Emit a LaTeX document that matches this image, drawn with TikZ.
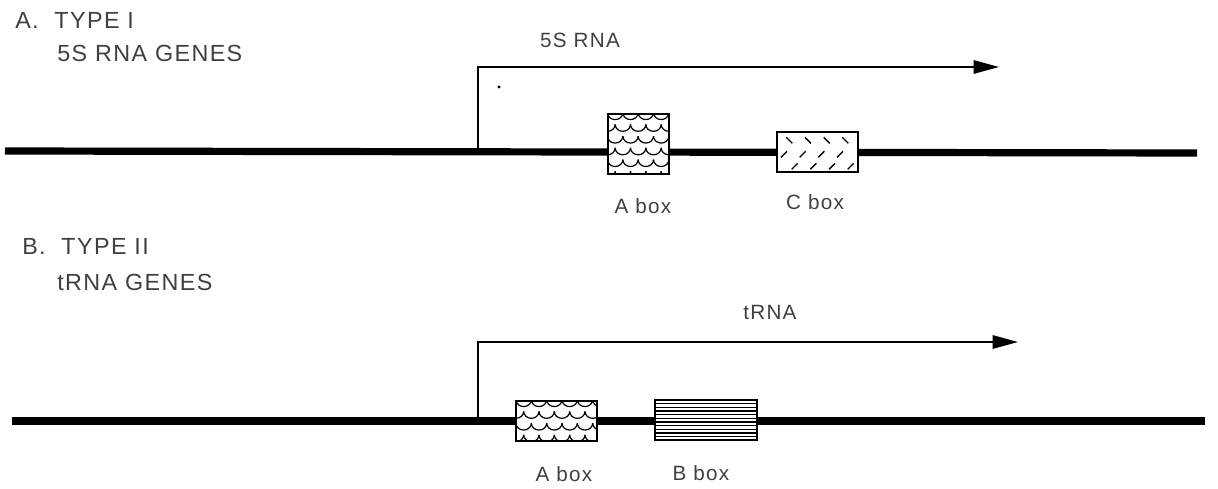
\documentclass[tikz,border=0pt]{standalone}
\usepackage{fontspec}
\setmainfont{Liberation Sans}[LetterSpace=6]
\usetikzlibrary{arrows.meta}
\begin{document}
\begin{tikzpicture}[x=0.75pt,y=-0.75pt,
  dna/.style={line width=5.4pt},
  tss/.style={line width=1.4pt,-{Triangle[length=19pt,width=10pt]}},
  gbox/.style={draw,line width=1.5pt,fill=white,inner sep=0pt},
  scales/.style={path picture={
    \foreach \r in {0,...,7}{\foreach \c in {-1,...,8}{
      \draw[line width=0.9pt] ([xshift={(\c+0.5*mod(\r,2))*11.5pt},yshift={-\r*8.8pt+1pt}]path picture bounding box.north west)
        arc[start angle=180,end angle=360,x radius=5.75pt,y radius=5.2pt];
    }}}},
  hlines/.style={path picture={
    \foreach \r in {1,...,10}{
      \draw[line width=0.8pt] ([yshift={-\r*2.75pt}]path picture bounding box.north west) -- ++(100pt,0);
    }}},
  dashpat/.style={path picture={
    \foreach \c in {0,...,3}{
      \draw[line width=1pt] ([xshift={7pt+\c*14pt},yshift=-4pt]path picture bounding box.north west) -- ++(4.5pt,-4.5pt);
      \draw[line width=1pt] ([xshift={3pt+\c*14pt},yshift=-19pt]path picture bounding box.north west) -- ++(4.5pt,4.5pt);
      \draw[line width=1pt] ([xshift={11pt+\c*14pt},yshift=-28pt]path picture bounding box.north west) -- ++(4.5pt,4.5pt);
    }}},
  head/.style={anchor=west,inner sep=0pt,font=\fontsize{17.5}{20}\selectfont,text=black!75},
  lbl/.style={inner sep=0pt,font=\fontsize{15.5}{18}\selectfont,text=black!75}]
\useasboundingbox (0,0) rectangle (1218,489);

% Panel A
\node[head] (ta1) at (15,20) {A.\ \ TYPE I};
\node[head] (ta2) at (57,53) {5S RNA GENES};
\coordinate (la) at (5,151);
\coordinate (ra) at (1197,153);
\draw[dna] (la) -- (ra);
\coordinate (pa) at (478,151);
\coordinate (tipa) at (999,67);
\draw[tss] (pa) |- (tipa);
\node[lbl] (rnaa) at (580,40) {5S RNA};
\fill (499,87) circle (1.2pt);
\node[gbox,scales,minimum width=45.75pt,minimum height=45pt] (aboxa) at (638,144) {};
\node[gbox,dashpat,minimum width=60.75pt,minimum height=30pt] (cbox) at (817.5,152) {};
\node[lbl] (la1) at (643,206) {A box};
\node[lbl] (lc1) at (815,202) {C box};

% Panel B
\node[head] (tb1) at (22,246) {B.\ \ TYPE II};
\node[head] (tb2) at (57,282) {tRNA GENES};
\coordinate (lb) at (12,421);
\coordinate (rb) at (1205,421);
\draw[dna] (lb) -- (rb);
\coordinate (pb) at (478,421);
\coordinate (tipb) at (1018,342);
\draw[tss] (pb) |- (tipb);
\node[lbl] (rnab) at (770,312) {tRNA};
\node[gbox,scales,minimum width=60.75pt,minimum height=30pt] (aboxb) at (556.5,421) {};
\node[gbox,hlines,minimum width=76.5pt,minimum height=30pt] (bbox) at (706,420) {};
\node[lbl] (la2) at (564,474) {A box};
\node[lbl] (lb2) at (701,473) {B box};
\end{tikzpicture}
\end{document}
